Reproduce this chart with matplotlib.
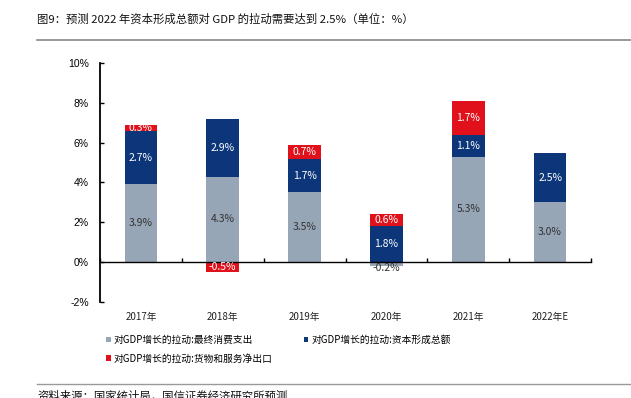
import matplotlib
matplotlib.use("Agg")
import matplotlib.pyplot as plt
import numpy as np
from matplotlib.patches import Patch

plt.rcParams['font.family'] = ['Noto Sans CJK SC', 'DejaVu Sans']

categories = ["2017年", "2018年", "2019年", "2020年", "2021年", "2022年E"]
consumption = [3.9, 4.3, 3.5, -0.2, 5.3, 3.0]
capital = [2.7, 2.9, 1.7, 1.8, 1.1, 2.5]
net_exports = [0.3, -0.5, 0.7, 0.6, 1.7, 0.0]
series_names = ["对GDP增长的拉动:最终消费支出", "对GDP增长的拉动:资本形成总额", "对GDP增长的拉动:货物和服务净出口"]
y_ticks = [-2, 0, 2, 4, 6, 8, 10]

colors = ["#97A6B7", "#0C3679", "#E0111B"]
label_colors = ["#333333", "white", "white"]

fig = plt.figure(figsize=(6.31, 3.98), dpi=100)
ax = fig.add_axes([100/631, 1-302/398, 491/631, 239/398])

x = np.arange(len(categories))
width = 0.4
pos_base = np.zeros(len(categories))
neg_base = np.zeros(len(categories))
for s, (vals, c, lc) in enumerate(zip([consumption, capital, net_exports], colors, label_colors)):
    vals = np.array(vals)
    bottoms = np.where(vals >= 0, pos_base, neg_base)
    ax.bar(x, vals, width, bottom=bottoms, color=c, zorder=2)
    for i, v in enumerate(vals):
        if v == 0:
            continue
        yc = bottoms[i] + v / 2
        col = lc
        if s == 0 and v < 0:
            yc = bottoms[i] + v - 0.1
        ax.text(x[i], yc, f"{v:.1f}%", ha="center", va="center", fontsize=7.5,
                color=col, zorder=4)
    pos_base = pos_base + np.where(vals >= 0, vals, 0)
    neg_base = neg_base + np.where(vals < 0, vals, 0)

ax.set_xlim(-0.5, len(categories) - 0.5)
ax.set_ylim(-2, 10)
ax.set_yticks(y_ticks)
ax.set_yticklabels([f"{t}%" for t in y_ticks], fontsize=7.5, family=['Liberation Sans', 'DejaVu Sans'])
ax.tick_params(axis='y', direction='in', length=3, width=1, pad=8)

for sp in ['top', 'right']:
    ax.spines[sp].set_visible(False)
ax.spines['left'].set_linewidth(1.3)
ax.spines['bottom'].set_position(('data', 0))
ax.spines['bottom'].set_linewidth(1.0)
ax.spines['bottom'].set_zorder(3)
ax.set_xticks(np.arange(len(categories) + 1) - 0.5)
ax.set_xticklabels([])
ax.tick_params(axis='x', direction='in', length=3, width=1)

for i, cat in enumerate(categories):
    ax.text(x[i], -0.063, cat, transform=ax.get_xaxis_transform(), ha="center", va="center",
            fontsize=7, color="#222222")

handles = [Patch(facecolor=c, edgecolor='none') for c in colors]
order = [0, 2, 1]
fig.legend([handles[k] for k in order], [series_names[k] for k in order],
           loc="upper left", bbox_to_anchor=(101/631, 1-330/398),
           ncol=2, frameon=False, fontsize=7, handlelength=0.5, handleheight=0.5,
           handletextpad=0.3, columnspacing=3.2, labelspacing=0.9, borderpad=0)

fig.text(37/631, 1-19/398, "图9：预测 2022 年资本形成总额对 GDP 的拉动需要达到 2.5%（单位：%）",
         fontsize=8.2, va="center", ha="left", color="#111111")
fig.add_artist(plt.Line2D([37/631, 1], [1-40/398, 1-40/398], color="#888888", lw=1.2))
fig.add_artist(plt.Line2D([37/631, 1], [1-384/398, 1-384/398], color="#999999", lw=1.0))
fig.text(37/631, 1-396/398, "资料来源：国家统计局，国信证券经济研究所预测", fontsize=8.2,
         va="center", ha="left", color="#111111")

fig.savefig("out.png", dpi=100)
